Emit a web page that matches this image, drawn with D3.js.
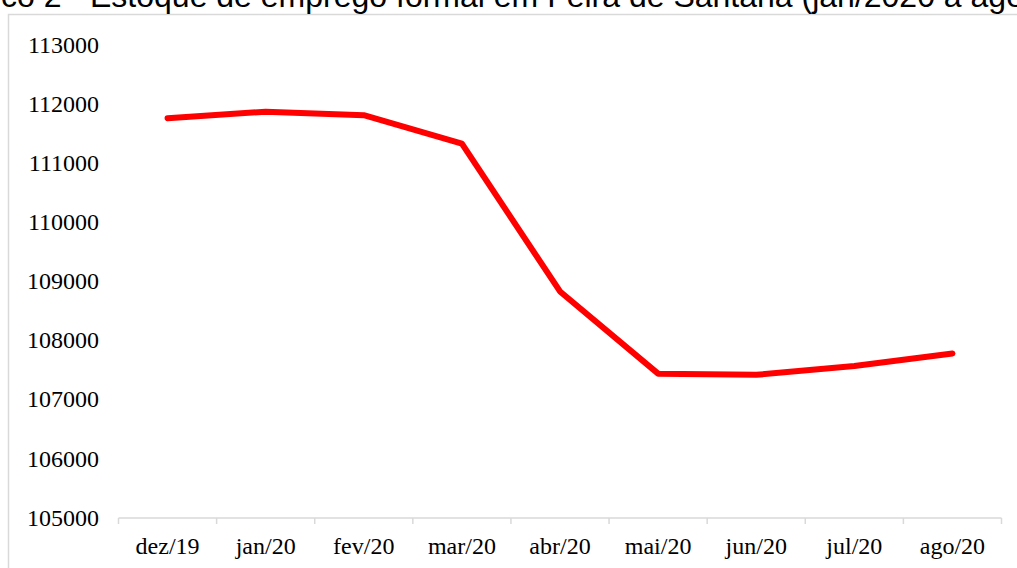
<!DOCTYPE html>
<html>
<head>
<meta charset="utf-8">
<script src="https://cdn.jsdelivr.net/npm/d3@7"></script>
<style>
  html, body { margin: 0; padding: 0; background: #fff; overflow: hidden; }
  svg { display: block; }
</style>
</head>
<body>
<div id="chart"></div>
<script>
// dados (estoque de emprego formal)
var months = ["dez/19", "jan/20", "fev/20", "mar/20", "abr/20", "mai/20", "jun/20", "jul/20", "ago/20"];
var stock = [111760, 111870, 111810, 111330, 108830, 107440, 107420, 107570, 107780];
var yTicks = [105000, 106000, 107000, 108000, 109000, 110000, 111000, 112000, 113000];
var title = "Gráfico 2 - Estoque de emprego formal em Feira de Santana (jan/2020 a ago/2020)";

var W = 1017, H = 568;

var svg = d3.select("#chart")
    .append("svg")
    .attr("width", W)
    .attr("height", H);

// chart area border
svg.append("rect")
    .attr("x", 8.5)
    .attr("y", 14.5)
    .attr("width", W + 20)
    .attr("height", H + 20)
    .attr("fill", "#fff")
    .attr("stroke", "#d9d9d9")
    .attr("stroke-width", 1.5);

// title, clipped at the top like the original
var t = svg.append("text")
    .attr("y", 6.5)
    .attr("font-family", "Liberation Sans, Arial, sans-serif")
    .attr("font-size", 32)
    .attr("fill", "#000")
    .text("Gráfico 2 -");
var prefixW = t.node().getComputedTextLength() + 32 * 0.278; // trailing space
t.text(title).attr("x", 90 - prefixW);

var x = d3.scaleBand()
    .domain(months)
    .range([118.5, 1001.5]);

var y = d3.scaleLinear()
    .domain([105000, 113000])
    .range([518, 44.8]);

// x axis
var xAxis = svg.append("g")
    .attr("transform", "translate(0,518)")
    .call(d3.axisBottom(x).tickSize(0).tickPadding(0));
xAxis.select(".domain").remove();
xAxis.selectAll(".tick text")
    .attr("y", 36)
    .attr("dy", null)
    .attr("font-family", "Liberation Serif, Times New Roman, serif")
    .attr("font-size", 24)
    .attr("fill", "#000");

xAxis.append("line")
    .attr("x1", x.range()[0]).attr("x2", x.range()[1])
    .attr("y1", 0).attr("y2", 0)
    .attr("stroke", "#d9d9d9")
    .attr("stroke-width", 1.5);

xAxis.selectAll(".sep")
    .data(months.concat([null]))
    .enter()
    .append("line")
    .attr("class", "sep")
    .attr("x1", function(d, i) { return x.range()[0] + i * x.step(); })
    .attr("x2", function(d, i) { return x.range()[0] + i * x.step(); })
    .attr("y1", 0).attr("y2", 6)
    .attr("stroke", "#d9d9d9")
    .attr("stroke-width", 1.5);

// y axis (labels only)
var yAxis = svg.append("g")
    .attr("transform", "translate(99,0)")
    .call(d3.axisLeft(y).tickValues(yTicks).tickFormat(d3.format("d")).tickSize(0).tickPadding(0));
yAxis.select(".domain").remove();
yAxis.selectAll(".tick text")
    .attr("dy", "0.3em")
    .attr("font-family", "Liberation Serif, Times New Roman, serif")
    .attr("font-size", 24)
    .attr("fill", "#000");

// line
var line = d3.line()
    .x(function(d, i) { return x(months[i]) + x.bandwidth() / 2; })
    .y(function(d) { return y(d); });

svg.append("path")
    .datum(stock)
    .attr("d", line)
    .attr("fill", "none")
    .attr("stroke", "#ff0000")
    .attr("stroke-width", 6)
    .attr("stroke-linecap", "round")
    .attr("stroke-linejoin", "round");
</script>
</body>
</html>
